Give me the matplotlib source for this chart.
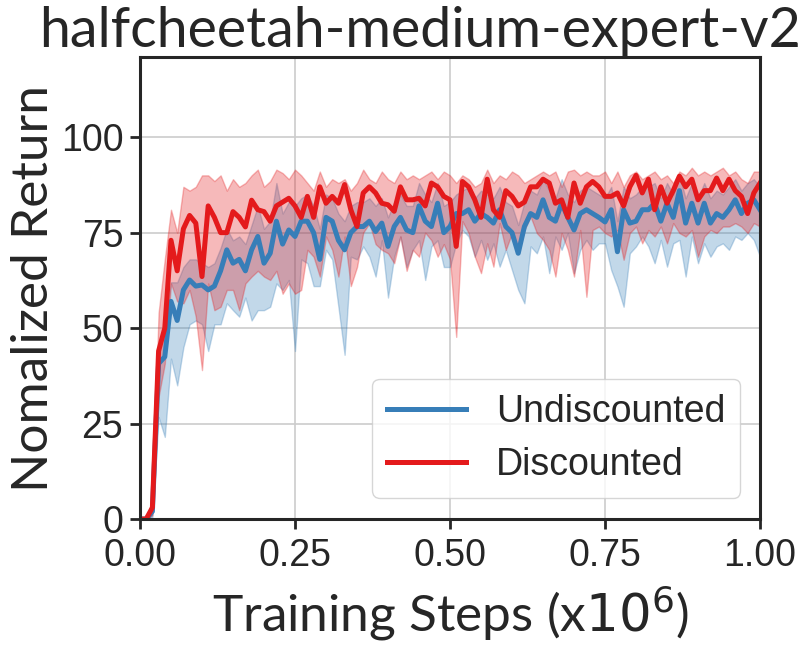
import numpy as np
import matplotlib
matplotlib.use("Agg")
import matplotlib.pyplot as plt

steps = np.round(np.arange(0, 101) * 0.01, 2)

disc_mean = [
    0, 0, 3, 44, 50, 73, 65, 76, 79.5, 77.5, 63.5, 82, 79, 75, 75, 80.5, 79, 76.5, 83.5, 81, 80.5,
    78, 82, 83, 84, 82, 79, 84.5, 79, 87, 82.7, 84.5, 82.7, 87.6, 81, 76.6, 85.4, 87, 85.4, 82.7, 82.3,
    80.6, 87, 83.6, 83.6, 84, 82, 88, 87, 84.5, 83.6, 71.4, 88.4, 87, 83.6, 79, 89, 81, 79, 86, 84.5,
    82, 83, 87, 87, 89, 88, 82.7, 83.6, 79, 88, 82.7, 87, 88.4, 87, 84.5, 84.5, 85.4, 82, 87, 90,
    85.4, 89, 81, 87, 82.7, 86, 89.8, 87, 89, 83.6, 86, 86, 89.3, 86, 89, 86, 84.5, 80, 85.4, 88]
disc_upper = [
    0, 0, 5, 54, 68, 81, 75, 87, 86, 87, 90, 90, 88.5, 90, 86, 89, 87, 88, 90, 91.5, 87,
    88.5, 91.5, 90.6, 89, 91.5, 90, 88, 86, 91, 87, 89, 88, 89, 86, 88, 91.5, 89, 88, 91, 89,
    88, 91, 89, 90, 89, 90, 91, 89, 91, 90, 88, 90, 89, 87, 88, 91.5, 88, 90, 89, 91,
    90, 88, 89, 90, 91, 90, 91, 87, 91, 91.5, 90, 91, 90, 90, 91, 88, 91, 87, 90, 91,
    89, 90, 91, 89, 90, 88, 91, 90, 92, 90, 91, 90, 91, 92, 90, 91, 89, 88, 91, 91]
disc_lower = [
    0, 0, 1, 32, 40.7, 61.7, 57, 56.5, 60, 53, 39, 61.7, 54.7, 55.6, 60, 60, 54.7, 61.7, 63.5, 65, 63.5,
    62.6, 65, 59, 61.7, 59, 60, 70.5, 68.7, 63.5, 74, 70.5, 63.5, 74, 61, 66, 75, 77.5, 72, 70.5, 69.6,
    67, 74, 65, 70.5, 68.7, 75, 73, 68.7, 72, 68, 47.7, 78, 74.9, 68.7, 64.4, 72.2, 66.1, 77.5, 70.5, 74.9,
    69.6, 75.7, 79.2, 74.9, 73.1, 70.5, 63.5, 74.9, 70.5, 63.5, 75.7, 58.2, 75.7, 76.6, 74.9, 74.0, 75.7, 67.9, 74.9, 76.6,
    72.2, 75.7, 74.0, 76.6, 72.2, 77.5, 74.9, 74.0, 75.7, 68.7, 74.0, 75.7, 74.9, 76.6, 76.6, 77.5, 76.6, 74.9, 77.5, 76.6]

undisc_mean = [
    0, 0, 2, 40.7, 42.5, 57, 52, 60, 62.6, 61, 61.3, 60, 61, 65, 70.5, 67, 68, 65, 70.5, 74, 67,
    69.6, 78, 72, 75.7, 74, 78, 78, 75, 68, 79, 78, 73, 70.5, 75, 76.6, 76.6, 78, 75.3, 77.5, 71.4,
    76.6, 79, 75.7, 75, 82, 78, 76.6, 82.7, 75, 76.6, 80, 80, 81, 78, 80, 79, 77.5, 81, 76.6, 75,
    69.6, 76.6, 80, 79, 83.6, 79, 78, 82.7, 79, 75.7, 80, 81, 80, 79, 77.8, 81, 70, 81, 77.5, 78,
    81, 81, 82.7, 78, 82.7, 79, 86, 77.5, 82.7, 77.5, 82.7, 77.5, 80, 79, 81, 83.6, 80, 82.7, 83.6, 81]
undisc_upper = [
    0, 0, 3, 44, 52, 62, 62, 66, 68, 68, 67, 66, 67, 71, 76, 73, 74, 72, 77, 82, 76,
    78, 88, 80, 83, 82, 84, 85, 82, 76, 85, 84, 80, 78, 82, 83, 83, 84, 82, 84, 79,
    83, 85, 82, 82, 88, 85, 83, 88, 82, 83, 85, 86, 87, 84, 86, 85, 84, 87, 83, 82,
    77, 83, 86, 85, 89, 86, 84, 89, 85, 83, 86, 87, 86, 85, 84, 87, 78, 87, 84, 85,
    87, 87, 88, 84, 88, 85, 90, 84, 88, 84, 88, 84, 86, 85, 87, 89, 86, 88, 89, 87]
undisc_lower = [
    0, 0, 0.5, 26.7, 21.5, 42, 35, 45, 51, 52, 51, 44, 51, 51, 56.5, 54.7, 53, 58, 52, 54.7, 54.7,
    55.6, 61.7, 60, 62.6, 44, 68, 67, 61, 61, 70.5, 68, 55.6, 43, 68.7, 68, 71.4, 68.7, 63.5, 73, 58,
    68.7, 74, 66, 70.5, 73, 62.6, 71.4, 73, 66, 66, 72.2, 75.7, 74.0, 68.7, 73.1, 67.9, 72.2, 66.1, 70.5, 65.2,
    60.0, 56.5, 71.4, 69.6, 74.0, 64.4, 74.0, 70.5, 74.9, 64.4, 70.5, 73.1, 70.5, 72.2, 72.2, 65.2, 60.9, 55.6, 69.6, 71.4,
    74.0, 71.4, 67.0, 73.1, 66.1, 72.2, 73.1, 63.5, 74.0, 67.0, 72.2, 68.7, 71.4, 72.2, 70.5, 74.0, 73.1, 74.9, 73.1, 68.7]

labels = ["Undiscounted", "Discounted"]
colors = ["#377eb8", "#e41a1c"]
xticks = [0.0, 0.25, 0.5, 0.75, 1.0]
xticklabels = ["0.00", "0.25", "0.50", "0.75", "1.00"]
yticks = [0, 25, 50, 75, 100]

plt.rcParams['font.family'] = ['Liberation Sans', 'DejaVu Sans']
fig = plt.figure(figsize=(8.12, 6.47), dpi=100)
ax = fig.add_axes([0.1724, 0.1978, 0.7636, 0.7141])

series = [(undisc_mean, undisc_lower, undisc_upper), (disc_mean, disc_lower, disc_upper)]
for (m, lo, up), lab, c in zip(series, labels, colors):
    ax.fill_between(steps, lo, up, color=c, alpha=0.3, lw=1)
    ax.plot(steps, m, color=c, lw=3.6, label=lab)

ax.set_xlim(0, 1.0)
ax.set_ylim(0, 121)
ax.set_xticks(xticks)
ax.set_xticklabels(xticklabels)
ax.set_yticks(yticks)
ax.grid(True, color="#cccccc", lw=1.2)
ax.set_axisbelow(True)
for s in ax.spines.values():
    s.set_color("#262626")
    s.set_linewidth(2.2)
ax.tick_params(axis='both', labelsize=27, colors="#262626", length=7, width=2)
ax.tick_params(axis='x', pad=7)
ax.tick_params(axis='y', pad=5)

tfont = ['Lato', 'DejaVu Sans']
ax.set_title("halfcheetah-medium-expert-v2", fontsize=40, family=tfont, color="#262626",
             pad=6, x=0.4516)
ax.set_xlabel("Training Steps (x$10^6$)", fontsize=37, family=tfont, color="#262626", labelpad=6)
ax.set_ylabel("Nomalized Return", fontsize=37, family=tfont, color="#262626", labelpad=3)

leg = ax.legend(loc="lower right", fontsize=27, frameon=True, fancybox=True,
                borderpad=0.4, labelspacing=0.45, handlelength=2.1, framealpha=0.8,
                edgecolor="#cccccc", borderaxespad=0, bbox_to_anchor=(0.968, 0.046))
for ln in leg.get_lines():
    ln.set_linewidth(3.6)
for t in leg.get_texts():
    t.set_color("#262626")

fig.savefig("out.png", dpi=100)
